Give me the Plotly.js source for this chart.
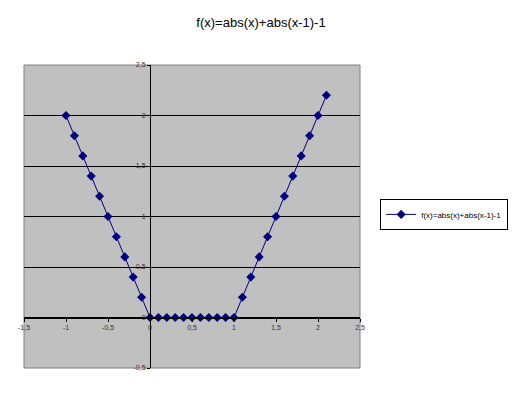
<!DOCTYPE html>
<html><head><meta charset="utf-8">
<script src="https://cdn.plot.ly/plotly-3.0.1.min.js"></script>
<style>html,body{margin:0;padding:0;background:#fff}#chart{width:522px;height:393px}</style>
</head><body><div id="chart"></div>
<script>
var seriesName = 'f(x)=abs(x)+abs(x-1)-1';
var xValues = [-1, -0.9, -0.8, -0.7, -0.6, -0.5, -0.4, -0.3, -0.2, -0.1, 0,
  0.1, 0.2, 0.3, 0.4, 0.5, 0.6, 0.7, 0.8, 0.9, 1,
  1.1, 1.2, 1.3, 1.4, 1.5, 1.6, 1.7, 1.8, 1.9, 2, 2.1];
var yValues = [2, 1.8, 1.6, 1.4, 1.2, 1, 0.8, 0.6, 0.4, 0.2, 0,
  0, 0, 0, 0, 0, 0, 0, 0, 0, 0,
  0.2, 0.4, 0.6, 0.8, 1, 1.2, 1.4, 1.6, 1.8, 2, 2.2];
var xTickVals = [-1.5, -1, -0.5, 0, 0.5, 1, 1.5, 2, 2.5];
var xTickText = ['-1,5', '-1', '-0,5', '0', '0,5', '1', '1,5', '2', '2,5'];
var yTickVals = [-0.5, 0, 0.5, 1, 1.5, 2, 2.5];
var yTickText = ['-0,5', '0', '0,5', '1', '1,5', '2', '2,5'];

var trace = {
  x: xValues, y: yValues, name: seriesName, type: 'scatter', mode: 'lines+markers',
  line: {color: '#000080', width: 1},
  marker: {symbol: 'diamond', size: 7, color: '#000080'}
};
var layout = {
  width: 522, height: 393,
  margin: {l: 24, r: 162, t: 65, b: 25},
  paper_bgcolor: '#ffffff', plot_bgcolor: '#c0c0c0',
  font: {family: 'Liberation Sans, Arial, sans-serif', color: '#000'},
  title: {text: 'f(x)=abs(x)+abs(x-1)-1', font: {size: 13, color: '#000'}, x: 0.5, xref: 'container', xanchor: 'center',
    y: 0.944, yref: 'container', yanchor: 'middle'},
  showlegend: true,
  legend: {x: 1.06, xanchor: 'left', y: 0.507, yanchor: 'middle', bgcolor: '#fff', bordercolor: '#000', borderwidth: 1,
    font: {size: 8, color: '#000'}, itemwidth: 30, tracegroupgap: 0},
  xaxis: {range: [-1.5, 2.5], tickvals: xTickVals, ticktext: xTickText, showgrid: false, zeroline: false,
    showline: true, linecolor: '#000', linewidth: 1, anchor: 'free', position: 1/6,
    ticks: 'outside', ticklen: 3, tickcolor: '#000', tickfont: {size: 7, color: '#333'}, fixedrange: true},
  yaxis: {range: [-0.5, 2.5], tickvals: yTickVals, ticktext: yTickText, showgrid: true, gridcolor: '#000', gridwidth: 1,
    zeroline: false, showline: true, linecolor: '#000', linewidth: 1, anchor: 'free', position: 0.375,
    ticks: 'outside', ticklen: 3, tickcolor: '#000', tickfont: {size: 7, color: '#333'}, fixedrange: true},
  shapes: [{type: 'rect', xref: 'paper', yref: 'paper', x0: 0, x1: 1, y0: 0, y1: 1, line: {color: '#808080', width: 1}, layer: 'below'}]
};
Plotly.newPlot('chart', [trace], layout, {displayModeBar: false, staticPlot: true});
</script></body></html>
